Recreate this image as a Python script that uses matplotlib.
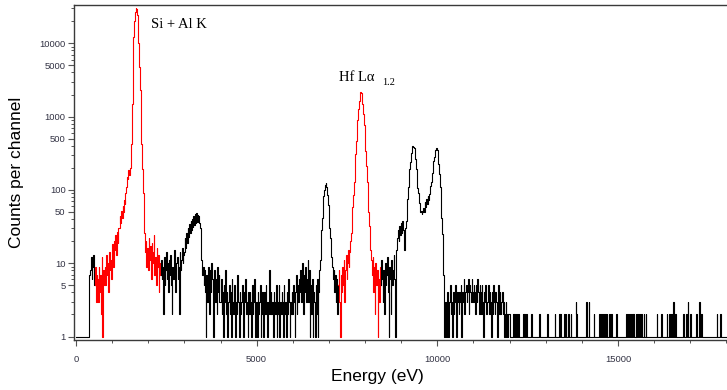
import numpy as np
import matplotlib
matplotlib.use("Agg")
import matplotlib.pyplot as plt
from matplotlib.ticker import FixedLocator, FixedFormatter, NullFormatter

# ----------------- DATA -----------------
# counts per 20 eV channel, ten channels (200 eV) per row

CHANNEL_EV = 20

counts_0_2kev = [
    1, 1, 1, 1, 1, 1, 1, 1, 1, 1,
    1, 1, 1, 1, 1, 1, 1, 1, 1, 7,
    8, 12, 6, 9, 13, 7, 5, 9, 3, 7,
    6, 3, 9, 4, 7, 2, 12, 1, 8, 5,
    9, 5, 13, 7, 10, 4, 14, 8, 11, 6,
    12, 18, 9, 20, 15, 24, 13, 27, 19, 30,
    30, 44, 35, 52, 42, 60, 50, 72, 64, 90,
    110, 150, 140, 185, 160, 200, 230, 420, 1500, 4200,
    12000, 20000, 27000, 30000, 29000, 24000, 17000, 10000, 4800, 2300,
    1000, 420, 190, 90, 45, 26, 14, 20, 9, 16,
]

counts_2_4kev = [
    8, 22, 11, 17, 6, 19, 10, 14, 24, 7,
    12, 5, 16, 9, 13, 4, 10, 7, 11, 6,
    9, 2, 12, 5, 8, 14, 6, 10, 4, 11,
    7, 13, 5, 2, 9, 6, 15, 8, 4, 10,
    12, 6, 9, 2, 14, 8, 11, 16, 10, 13,
    14, 22, 16, 26, 19, 30, 23, 34, 26, 38,
    28, 40, 31, 44, 33, 47, 35, 49, 37, 46,
    44, 35, 30, 20, 11, 7, 9, 5, 8, 4,
    1, 7, 3, 9, 5, 2, 8, 4, 10, 6,
    1, 5, 8, 3, 6, 2, 9, 4, 7, 3,
]

counts_4_6kev = [
    3, 6, 2, 4, 1, 5, 3, 8, 2, 4,
    1, 3, 5, 2, 4, 1, 6, 3, 2, 5,
    4, 1, 3, 2, 7, 3, 1, 4, 2, 3,
    5, 2, 1, 4, 3, 6, 2, 3, 1, 4,
    2, 4, 3, 1, 5, 2, 3, 6, 1, 3,
    3, 1, 4, 2, 3, 5, 1, 2, 4, 3,
    1, 4, 2, 5, 3, 1, 3, 2, 8, 2,
    4, 2, 3, 1, 4, 3, 2, 5, 1, 3,
    2, 5, 1, 3, 2, 4, 3, 1, 5, 2,
    3, 1, 4, 2, 6, 3, 1, 3, 2, 4,
]

counts_6_8kev = [
    2, 5, 3, 1, 4, 7, 2, 5, 3, 6,
    4, 8, 3, 10, 5, 2, 7, 4, 9, 3,
    6, 11, 3, 8, 1, 5, 2, 6, 1, 4,
    3, 1, 5, 2, 6, 1, 4, 8, 11, 20,
    28, 42, 62, 82, 100, 115, 125, 110, 85, 62,
    42, 30, 22, 16, 12, 9, 6, 8, 4, 7,
    3, 6, 2, 5, 8, 3, 1, 7, 4, 9,
    5, 11, 3, 8, 13, 6, 10, 15, 9, 14,
    20, 26, 38, 58, 85, 130, 200, 310, 470, 680,
    900, 1250, 1650, 1950, 2150, 2100, 1850, 1480, 1100, 760,
]

counts_8_10kev = [
    520, 340, 215, 130, 80, 50, 32, 21, 15, 11,
    7, 12, 4, 9, 2, 10, 5, 8, 1, 6,
    3, 9, 5, 11, 6, 3, 8, 2, 10, 5,
    7, 12, 4, 1, 9, 6, 2, 11, 5, 8,
    13, 6, 1, 10, 15, 22, 28, 20, 32, 24,
    35, 26, 38, 28, 22, 15, 30, 38, 60, 76,
    110, 135, 195, 240, 320, 350, 395, 380, 375, 310,
    265, 190, 155, 105, 92, 66, 63, 50, 52, 47,
    50, 56, 50, 68, 58, 74, 64, 82, 72, 88,
    90, 112, 130, 170, 195, 250, 285, 335, 350, 370,
]

counts_10_12kev = [
    345, 290, 225, 165, 110, 68, 42, 25, 15, 7,
    1, 3, 2, 1, 4, 2, 1, 3, 5, 2,
    3, 1, 4, 2, 3, 5, 2, 1, 4, 3,
    2, 4, 3, 5, 1, 4, 3, 6, 2, 4,
    5, 3, 4, 6, 2, 5, 4, 3, 6, 4,
    3, 5, 4, 2, 5, 3, 6, 4, 2, 5,
    4, 2, 5, 3, 1, 4, 3, 5, 2, 3,
    3, 5, 2, 4, 3, 1, 4, 2, 5, 3,
    2, 4, 3, 1, 3, 5, 2, 4, 2, 3,
    4, 2, 3, 1, 2, 3, 1, 2, 1, 2,
]

counts_12_18kev = [
    2, 1, 1, 1, 1, 2, 1, 2, 1, 1,
    2, 1, 2, 1, 1, 1, 1, 1, 1, 2,
    1, 2, 1, 2, 1, 1, 1, 1, 1, 1,
    2, 1, 1, 1, 1, 1, 1, 1, 1, 1,
    1, 2, 1, 1, 1, 1, 1, 1, 1, 1,
    1, 1, 1, 2, 1, 1, 1, 1, 1, 1,
    1, 1, 1, 2, 1, 1, 1, 1, 1, 2,
    1, 2, 1, 1, 1, 1, 2, 1, 2, 1,
    1, 1, 2, 1, 1, 2, 1, 1, 1, 1,
    1, 1, 3, 2, 1, 1, 1, 1, 1, 1,
    1, 1, 1, 1, 1, 1, 1, 3, 1, 1,
    3, 1, 1, 1, 1, 1, 1, 2, 1, 1,
    1, 1, 1, 1, 1, 2, 1, 2, 1, 1,
    2, 1, 1, 2, 1, 2, 1, 1, 2, 1,
    1, 2, 1, 1, 1, 1, 1, 1, 2, 1,
    1, 1, 1, 1, 1, 1, 1, 1, 1, 1,
    1, 1, 2, 1, 1, 2, 1, 2, 1, 1,
    2, 1, 2, 1, 1, 2, 1, 2, 1, 1,
    2, 1, 1, 2, 1, 1, 2, 1, 1, 2,
    1, 1, 1, 1, 1, 1, 1, 1, 1, 1,
    1, 1, 1, 1, 2, 1, 1, 1, 1, 1,
    2, 1, 1, 1, 1, 1, 1, 1, 2, 1,
    1, 2, 1, 1, 2, 1, 1, 3, 1, 1,
    2, 1, 1, 1, 1, 1, 1, 1, 1, 1,
    1, 2, 1, 1, 1, 2, 1, 3, 1, 1,
    2, 1, 1, 1, 1, 1, 1, 1, 1, 2,
    1, 1, 1, 3, 1, 1, 2, 1, 1, 1,
    1, 1, 1, 1, 1, 1, 1, 1, 1, 1,
    1, 1, 1, 1, 1, 1, 1, 2, 1, 1,
    1, 1, 2, 1, 1, 1, 1, 1, 1, 1,
    1, 1, 1, 1, 1, 1, 1, 1, 1, 1,
]

# energy windows drawn in red (eV)
red_windows_ev = [(520, 2340), (7260, 8440)]

y_major = [1, 5, 10, 50, 100, 500, 1000, 5000, 10000]
y_major_labels = ["1", "5", "10", "50", "100", "500", "1000", "5000", "10000"]
x_major = [0, 5000, 10000, 15000]

# ----------------- PLOT -----------------

counts = np.array(counts_0_2kev + counts_2_4kev + counts_4_6kev + counts_6_8kev
                  + counts_8_10kev + counts_10_12kev + counts_12_18kev, dtype=float)
energy = np.arange(len(counts)) * CHANNEL_EV

# split the spectrum into black / red pieces (shared end points keep it joined)
pieces = []
start = energy[0]
for lo, hi in red_windows_ev:
    pieces.append((start, lo, "black"))
    pieces.append((lo, hi, "red"))
    start = hi
pieces.append((start, energy[-1], "black"))

W, H = 727, 390
fig = plt.figure(figsize=(W / 100, H / 100), dpi=100)
# axes run past the right edge of the picture (no right frame visible)
ax = fig.add_axes([73.5 / W, 50 / H, (800 - 73.5) / W, 335 / H])

for lo, hi, col in pieces:
    m = (energy >= lo) & (energy <= hi)
    ax.plot(energy[m], counts[m], color=col, lw=0.8, drawstyle="steps-mid")

ax.set_yscale("log")
ax.set_xlim(-69, 20040)
ax.set_ylim(0.896, 33300)

minor_y = [m * 10 ** d for d in range(0, 5) for m in (2, 3, 4, 6, 7, 8, 9)]
ax.yaxis.set_major_locator(FixedLocator(y_major))
ax.yaxis.set_major_formatter(FixedFormatter(y_major_labels))
ax.yaxis.set_minor_locator(FixedLocator(minor_y))
ax.yaxis.set_minor_formatter(NullFormatter())

ax.xaxis.set_major_locator(FixedLocator(x_major))
ax.xaxis.set_minor_locator(FixedLocator(np.arange(1000, 20000, 1000)))

tick_col = "#333344"
ax.tick_params(which="major", direction="out", length=4, width=0.8, color="#555555",
               labelsize=6.8, labelcolor=tick_col)
ax.tick_params(which="minor", direction="out", length=2.2, width=0.7, color="#555555")
ax.tick_params(axis="x", which="major", pad=6.5)
ax.tick_params(axis="y", which="major", pad=1.7)
for lab in ax.get_xticklabels() + ax.get_yticklabels():
    lab.set_family("Liberation Sans")

for s in ax.spines.values():
    s.set_color("#3a3a3a")
    s.set_linewidth(1.0)

# axis titles
fig.text(377.5 / W, 1 - 377 / H, "Energy (eV)", ha="center", va="center",
         fontsize=12.5, family="Liberation Sans")
fig.text(17 / W, 1 - 172.5 / H, "Counts per channel", ha="center", va="center",
         rotation=90, fontsize=12.5, family="Liberation Sans")

# peak annotations
ax.text(2068, 16300, "Si + Al K", fontsize=10.5, family="Liberation Serif",
        ha="left", va="baseline")
ax.text(7280, 3090, "Hf L\u03b1", fontsize=10.5, family="Liberation Serif",
        ha="left", va="baseline")
ax.text(8470, 2700, "1.2", fontsize=7.5, family="Liberation Serif",
        ha="left", va="baseline")

fig.savefig("out.png", dpi=100)
